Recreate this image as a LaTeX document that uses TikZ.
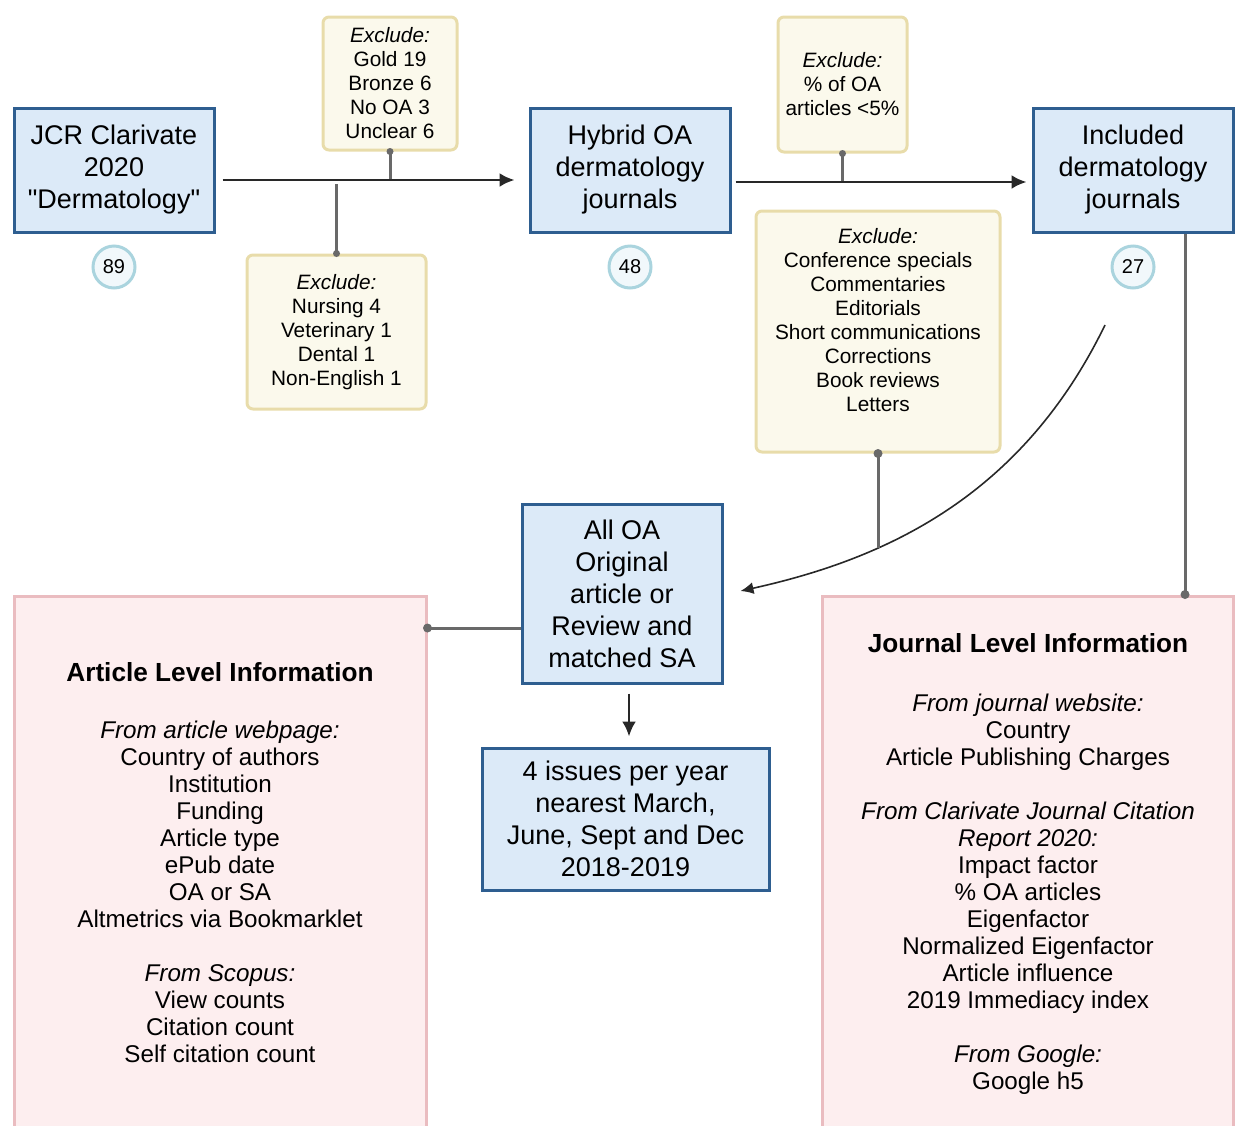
\documentclass[tikz,border=0pt]{standalone}
\usepackage{fontspec}
\setmainfont{Liberation Sans}[Ligatures=TeXOff]
\usetikzlibrary{arrows.meta,calc}
\definecolor{bluefill}{RGB}{220,234,248}
\definecolor{blueline}{RGB}{46,94,144}
\definecolor{exfill}{RGB}{251,249,236}
\definecolor{exline}{RGB}{232,220,170}
\definecolor{pinkfill}{RGB}{253,238,239}
\definecolor{pinkline}{RGB}{234,188,192}
\definecolor{numline}{RGB}{170,212,222}
\definecolor{numfill}{RGB}{241,248,251}
\definecolor{stemc}{RGB}{105,105,105}
\definecolor{arrc}{RGB}{40,40,40}
\begin{document}
\begin{tikzpicture}[x=1pt,y=-1pt,
  bluebox/.style={draw=blueline, fill=bluefill, line width=3pt, align=center, inner sep=0pt,
    font=\fontsize{27}{32}\selectfont},
  exbox/.style={draw=exline, fill=exfill, line width=3pt, rounded corners=6pt, align=center, inner sep=0pt,
    font=\fontsize{20.8}{24}\selectfont},
  extext/.style={align=center, inner sep=0pt, font=\fontsize{20.8}{24}\selectfont},
  pinkbox/.style={draw=pinkline, fill=pinkfill, line width=3pt, inner sep=0pt},
  ptitle/.style={inner sep=0pt, font=\fontsize{26.2}{30}\selectfont\bfseries},
  pbody/.style={align=center, inner sep=0pt, font=\fontsize{24.2}{27}\selectfont},
  numc/.style={circle, draw=numline, fill=numfill, line width=3pt, minimum size=42pt, inner sep=0pt,
    font=\fontsize{20}{24}\selectfont},
  flow/.style={draw=arrc, line width=2.6pt, -{Latex[length=15pt,width=14pt]}},
  stem/.style={draw=stemc, line width=3pt},
  dotc/.style={fill=stemc}
]
\useasboundingbox (0,0) rectangle (1238,1125);

% pink information boxes
\node[pinkbox, minimum width=412pt, minimum height=544pt] (al) at (220,868) {};
\node[pinkbox, minimum width=411pt, minimum height=544pt] (jl) at (1027.5,868) {};
\node[ptitle] (alt) at (220,672) {Article Level Information};
\node[ptitle] (jlt) at (1028,643) {Journal Level Information};
\node[pbody] (alb) at (220,891.5) {\textit{From article webpage:}\\Country of authors\\Institution\\Funding\\Article type\\ePub date\\OA or SA\\Altmetrics via Bookmarklet\\[27pt]\textit{From Scopus:}\\View counts\\Citation count\\Self citation count};
\node[pbody] (jlb) at (1028,894) {\textit{From journal website:}\\Country\\Article Publishing Charges\\[27pt]\textit{From Clarivate Journal Citation}\\\textit{Report 2020:}\\Impact factor\\\% OA articles\\Eigenfactor\\Normalized Eigenfactor\\Article influence\\2019 Immediacy index\\[27pt]\textit{From Google:}\\Google h5};

% main boxes
\node[bluebox, minimum width=200pt, minimum height=124pt] (jcr) at (114,170) {JCR Clarivate\\2020\\"Dermatology"};
\node[bluebox, minimum width=200pt, minimum height=124pt] (hyb) at (630,170) {Hybrid OA\\dermatology\\journals};
\node[bluebox, minimum width=200pt, minimum height=124pt] (inc) at (1133,170) {Included\\dermatology\\journals};
\node[bluebox, minimum width=200pt, minimum height=179pt] (aoa) at (622,593.5) {All OA\\Original\\article or\\Review and\\matched SA};
\node[bluebox, minimum width=287pt, minimum height=142pt] (iss) at (625.5,819) {4 issues per year\\nearest March,\\June, Sept and Dec\\2018-2019};

% counts
\node[numc] (n89) at (114,267) {89};
\node[numc] (n48) at (630,267) {48};
\node[numc] (n27) at (1133,267) {27};

% exclusion boxes
\node[exbox, minimum width=134pt, minimum height=133pt] (exa) at (390,83.5) {\textit{Exclude:}\\Gold 19\\Bronze 6\\No OA 3\\Unclear 6};
\node[exbox, minimum width=179pt, minimum height=154pt] (exb) at (336.5,332) {\textit{Exclude:}\\Nursing 4\\Veterinary 1\\Dental 1\\Non-English 1};
\node[exbox, minimum width=129pt, minimum height=135pt] (exc) at (842.5,84.5) {\textit{Exclude:}\\\% of OA\\articles <5\%};
\node[exbox, minimum width=244pt, minimum height=241pt] (exd) at (878,331.5) {};
\node[extext] (exdt) at (878,320) {\textit{Exclude:}\\Conference specials\\Commentaries\\Editorials\\Short communications\\Corrections\\Book reviews\\Letters};

% connectors
\coordinate (a1) at ([yshift=-10pt]jcr.east);
\draw[stem] (exa.south) -- (exa.south |- a1);
\fill[dotc] (exa.south) circle (3.5pt);
\coordinate (b1) at ($(exb.north |- a1)+(0,4)$);
\draw[stem] (b1) -- (exb.north);
\fill[dotc] (exb.north) circle (3.5pt);
\draw[flow, shorten <=7pt, shorten >=14pt] (a1) -- (a1 -| hyb.west);

\coordinate (a2) at ([yshift=-12pt]hyb.east);
\draw[stem] (exc.south) -- (exc.south |- a2);
\fill[dotc] (exc.south) circle (3.5pt);
\draw[flow, shorten <=4pt, shorten >=5pt] (a2) -- (a2 -| inc.west);

\coordinate (cs) at (1105,325);
\coordinate (ce) at ([xshift=17pt,yshift=2.5pt]aoa.east);
\draw[draw=arrc, line width=1.6pt, -{Latex[length=13pt,width=12pt]}] (cs) .. controls +(-85,175) and +(140,-31) .. (ce) coordinate[pos=0.67] (cm);
\draw[stem] (exd.south) -- (exd.south |- cm);
\fill[dotc] (exd.south) circle (4.5pt);

\coordinate (ib) at ([xshift=52pt]inc.south);
\draw[stem] (ib) -- (ib |- jl.north);
\fill[dotc] (ib |- jl.north) circle (4.5pt);

\coordinate (ao) at ([yshift=-34.5pt]aoa.west);
\draw[stem] (ao) -- (ao -| al.east);
\fill[dotc] (ao -| al.east) circle (4.5pt);

\coordinate (ad) at ([xshift=7pt]aoa.south);
\draw[flow, shorten <=9pt, shorten >=10pt] (ad) -- (ad |- iss.north);
\end{tikzpicture}
\end{document}
